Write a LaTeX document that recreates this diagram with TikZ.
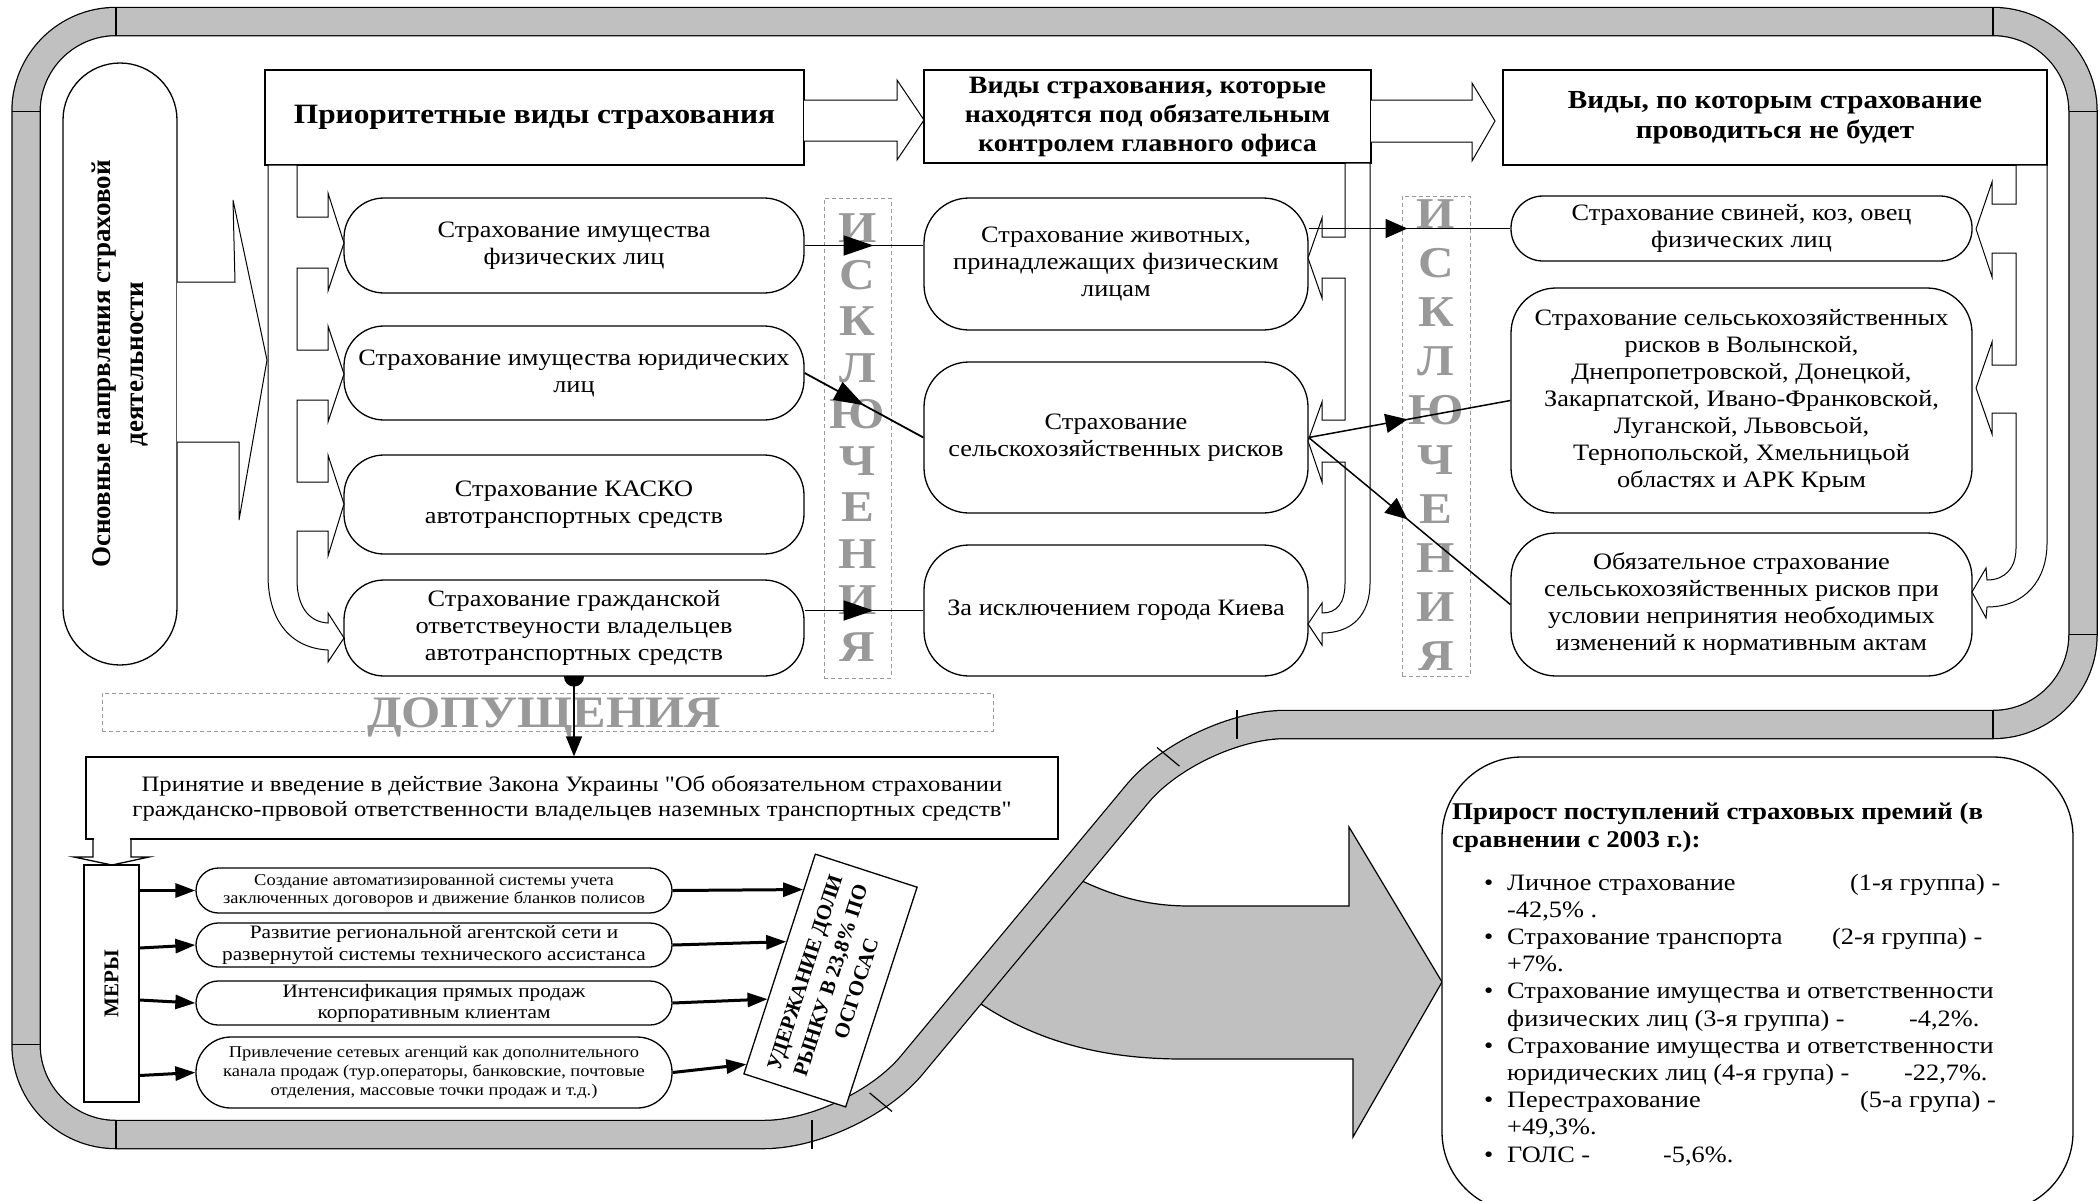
\documentclass[tikz,border=0pt]{standalone}
\usepackage{fontspec}
\usepackage{graphicx}
\setmainfont{Liberation Serif}[FakeStretch=1.12, Ligatures=TeXOff]
\newfontfamily\rotfont{Liberation Serif}[Ligatures=TeXOff]
\usetikzlibrary{arrows.meta,decorations.markings,calc}
\definecolor{bandgray}{RGB}{192,192,192}
\definecolor{lettergray}{RGB}{153,153,153}
\newcommand{\fsz}[2]{\fontsize{#1pt}{#2pt}\selectfont}
\tikzset{
  box/.style={draw, fill=white, line width=1.3pt, rounded corners=40pt, align=center, inner sep=0pt, font=\fsz{23.5}{27}},
  headbox/.style={draw, fill=white, line width=1.3pt, align=center, inner sep=0pt},
  pill/.style={draw, fill=white, line width=1.3pt, align=center, inner sep=0pt, minimum width=476pt},
  bracketst/.style={draw, fill=white, line width=1pt},
  dashbox/.style={draw=lettergray, dash pattern=on 4pt off 3pt, line width=1pt, inner sep=0pt},
  exletter/.style={text=lettergray, font=\bfseries\fsz{44}{48}, anchor=base, inner sep=0pt},
  midtri/.style={postaction={decorate}, decoration={markings, mark=at position #1 with {\arrow{Triangle[length=30pt,width=20pt]}}}},
  midtrib/.style={postaction={decorate}, decoration={markings, mark=at position #1 with {\arrow{Triangle[length=22pt,width=19pt]}}}},
  meraarrow/.style={line width=3pt, -{Triangle[length=20pt,width=14pt]}},
  prtext/.style={anchor=base west, inner sep=0pt, font=\fsz{23.5}{27}},
  divline/.style={line width=1.2pt},
}
\begin{document}
\begin{tikzpicture}[x=1pt,y=-1pt]
\useasboundingbox (0,0) rectangle (2100,1200);
\fill[white] (0,0) rectangle (2100,1200);

% big gray arrow
\draw[fill=bandgray, line width=1.2pt] (1070,875) .. controls (1115,898) and (1150,906) .. (1190,906) -- (1349,906) -- (1349,827) -- (1442,982) -- (1353,1137) -- (1353,1059) -- (1183,1059) .. controls (1110,1059) and (1040,1045) .. (975,1000) -- cycle;

% band loop
\draw[double=bandgray, double distance=27pt, line width=1.25pt, rounded corners=90pt]
  (1000,21.5) -- (2083,21.5) -- (2083,724.5) -- (1195,724.5) -- (854,1134.5) -- (26,1134.5) -- (26,21.5) -- cycle;
\draw[divline] (116,7) -- (116,36);
\draw[divline] (11.5,111.5) -- (40.5,111.5);
\draw[divline] (1993,7) -- (1993,36);
\draw[divline] (2068.5,111.5) -- (2097.5,111.5);
\draw[divline] (2068.5,634.5) -- (2097.5,634.5);
\draw[divline] (1993,710) -- (1993,739);
\draw[divline] (1237,710) -- (1237,739);
\draw[divline] (1157,747.5) -- (1179.4,766.1);
\draw[divline] (869.6,1092.9) -- (892,1111.5);
\draw[divline] (812,1120) -- (812,1149);
\draw[divline] (116,1120) -- (116,1149);
\draw[divline] (11.5,1044.5) -- (40.5,1044.5);

% left oval
\node[draw, fill=white, line width=1.3pt, rounded corners=57pt, minimum width=114pt, minimum height=602pt, inner sep=0pt] (OV) at (120,364)
 {\rotatebox{90}{\rotfont\bfseries\fsz{27}{33}\begin{tabular}{@{}c@{}}Основные напрвления страховой\\деятельности\end{tabular}}};

% headers
\node[headbox, minimum width=539pt, minimum height=95pt, font=\bfseries\fsz{28}{32}] (H1) at (534.5,117.5) {Приоритетные виды страхования};
\node[headbox, minimum width=447pt, minimum height=93pt, font=\bfseries\fsz{25}{29}] (H2) at (1147.5,116.5) {Виды страхования, которые\\находятся под обязательным\\контролем главного офиса};
\node[headbox, minimum width=544pt, minimum height=95pt, font=\bfseries\fsz{26}{30}] (H3) at (1775,117.5) {Виды, по которым страхование\\проводиться не будет};

% header block arrows
\draw[bracketst] (804,100) -- (897,100) -- (897,80) -- (924,120) -- (897,160) -- (897,141) -- (804,141);
\draw[bracketst] (1371,100) -- (1472,100) -- (1472,83) -- (1495,121) -- (1472,161) -- (1472,142) -- (1371,142);

% arrow from oval
\draw[bracketst] (177,282) -- (235,282) -- (233,200) -- (267,360) -- (239,520) -- (239,442) -- (177,442);

% left column boxes
\node[box, minimum width=460pt, minimum height=95pt] (L1) at (574,245.5) {Страхование имущества\\физических лиц};
\node[box, minimum width=460pt, minimum height=94pt] (L2) at (574,373) {Страхование имущества юридических\\лиц};
\node[box, minimum width=460pt, minimum height=99pt] (L3) at (574,504.5) {Страхование КАСКО\\автотранспортных средств};
\node[box, minimum width=460pt, minimum height=96pt] (L4) at (574,628) {Страхование гражданской\\ответствеуности владельцев\\автотранспортных средств};

% middle column boxes
\node[box, rounded corners=45pt, minimum width=384pt, minimum height=132pt] (M1) at (1116,264) {Страхование животных,\\принадлежащих физическим\\лицам};
\node[box, rounded corners=45pt, minimum width=384pt, minimum height=151pt] (M2) at (1116,437.5) {Страхование\\сельскохозяйственных рисков};
\node[box, rounded corners=45pt, minimum width=384pt, minimum height=131pt] (M3) at (1116,610.5) {За исключением города Киева};

% right column boxes
\node[box, rounded corners=32pt, minimum width=461pt, minimum height=65pt] (R1) at (1741.5,228.5) {Страхование свиней, коз, овец\\физических лиц};
\node[box, rounded corners=45pt, minimum width=461pt, minimum height=225pt] (R2) at (1741.5,400.5) {Страхование сельськохозяйственных\\рисков в Волынской,\\Днепропетровской, Донецкой,\\Закарпатской, Ивано-Франковской,\\Луганской, Львовсьой,\\Тернопольской, Хмельницьой\\областях и АРК Крым};
\node[box, rounded corners=45pt, minimum width=461pt, minimum height=143pt] (R3) at (1741.5,604.5) {Обязательное страхование\\сельськохозяйственных рисков при\\условии непринятия необходимых\\изменений к нормативным актам};

% brackets
\draw[bracketst] (268,165) -- (297,165) -- (297,217) -- (328,217) -- (328,193) -- (344,243) -- (328,291) -- (328,268) -- (297,268) -- (297,350) -- (328,350) -- (328,326) -- (344,374) -- (328,422) -- (328,400) -- (297,400) -- (297,482) -- (328,482) -- (328,455) -- (344,504) -- (328,556) -- (328,531) -- (297,531) -- (297,580) .. controls (297,605) and (308,622) .. (328,623) -- (328,613) -- (344,638) -- (328,662) -- (328,650) .. controls (290,648) and (268,620) .. (268,575) -- cycle;
\draw[bracketst] (1370,163) -- (1345,163) -- (1345,237) -- (1322,237) -- (1322,218) -- (1308,258) -- (1322,298) -- (1322,278) -- (1345,278) -- (1345,420) -- (1322,420) -- (1322,402) -- (1308,441) -- (1322,482) -- (1322,462) -- (1345,462) -- (1345,583) .. controls (1345,603) and (1337,613) .. (1322,613) -- (1322,603) -- (1308,624) -- (1322,645) -- (1322,633) .. controls (1352,633) and (1370,615) .. (1370,583) -- cycle;
\draw[bracketst] (2047,165) -- (2016,165) -- (2016,204) -- (1992,204) -- (1992,182) -- (1976,229) -- (1992,277) -- (1992,253) -- (2016,253) -- (2016,365) -- (1992,365) -- (1992,342) -- (1976,388) -- (1992,434) -- (1992,413) -- (2016,413) -- (2016,548) .. controls (2016,568) and (2005,580) .. (1987,580) -- (1986,568) -- (1972,592) -- (1986,618) -- (1987,607) .. controls (2025,607) and (2047,580) .. (2047,543) -- cycle;

% exclusion columns
\node[dashbox, minimum width=67pt, minimum height=480pt] (EX1) at (857.5,438) {};
\foreach \ch [count=\i] in {И,С,К,Л,Ю,Ч,Е,Н,И,Я}
  \node[exletter] (exa\i) at (857.5,{228+(\i-1)*46.5+14.5}) {\ch};
\node[dashbox, minimum width=68pt, minimum height=480pt] (EX2) at (1436,436) {};
\foreach \ch [count=\i] in {И,С,К,Л,Ю,Ч,Е,Н,И,Я}
  \node[exletter] (exb\i) at (1436,{214+(\i-1)*49.1+14.5}) {\ch};

% assumptions
\node[dashbox, minimum width=891pt, minimum height=38pt] (DPB) at (547.5,712) {};
\node[anchor=base, inner sep=0pt, text=lettergray, font=\bfseries\fsz{45}{50}] (DPT) at (544,727) {ДОПУЩЕНИЯ};

% connectors between columns
\draw[line width=1.8pt, midtri=0.58] (L1.east) -- (M1.west |- L1.east);
\draw[line width=1.8pt, midtri=0.5] (L2.east) -- (M2.west);
\draw[line width=1.8pt, midtri=0.58] (L4.east |- M3.west) -- (M3.west);
\draw[line width=1.5pt, midtrib=0.49] (M1.east |- R1.west) -- (R1.west);
\draw[line width=1.5pt, midtrib=0.49] (M2.east) -- (R2.west);
\draw[line width=1.5pt, midtrib=0.49] (M2.east) -- (R3.west);

% law box
\node[draw, fill=white, line width=1.3pt, minimum width=972pt, minimum height=82pt, inner sep=0pt, align=center, font=\fsz{22}{25}] (PN) at (572,798) {Принятие и введение в действие Закона Украины "Об обоязательном страховании\\гражданско-првовой ответственности владельцев наземных транспортных средств"};
\fill[white] (94,836) rectangle (130,842);
\draw[line width=1.3pt] (93,839) -- (93,857) -- (74,857) -- (112,865) -- (149,857) -- (131,857) -- (131,839);

\begin{scope}
\clip (0,676) rectangle (2100,700);
\fill (L4.south) circle[radius=10pt];
\end{scope}
\draw[line width=1.5pt, -{Triangle[length=20pt,width=16pt]}] (L4.south) -- (L4.south |- PN.north);

% measures
\node[draw, fill=white, line width=1.3pt, minimum width=55pt, minimum height=237pt, inner sep=0pt] (MR) at (111.5,983.5) {\rotatebox{90}{\rotfont\bfseries\fsz{21}{24}МЕРЫ}};
\node[pill, minimum height=45pt, rounded corners=22.5pt, font=\fsz{16.5}{18}] (B1) at (434,890.5) {Создание автоматизированной системы учета\\заключенных договоров и движение бланков полисов};
\node[pill, minimum height=44pt, rounded corners=22pt, font=\fsz{19}{22}] (B2) at (434,945) {Развитие региональной агентской сети и\\развернутой системы технического ассистанса};
\node[pill, minimum height=44pt, rounded corners=22pt, font=\fsz{19}{21}] (B3) at (434,1003) {Интенсификация прямых продаж\\корпоративным клиентам};
\node[pill, minimum height=71pt, rounded corners=35pt, font=\fsz{16.5}{19}] (B4) at (434,1072.5) {Привлечение сетевых агенций как дополнительного\\канала продаж (тур.операторы, банковские, почтовые\\отделения, массовые точки продаж и т.д.)};

\node[draw, fill=white, line width=1.3pt, rotate=72, minimum width=231pt, minimum height=107pt, inner sep=0pt, align=center, font=\rotfont\bfseries\fsz{21}{27}] (UD) at (830.5,980.5) {УДЕРЖАНИЕ ДОЛИ\\РЫНКУ В 23,8\% ПО\\ОСГОСАС};
\coordinate (u1) at ($(UD.north east)!0.164!(UD.north west)$);
\coordinate (u2) at ($(UD.north east)!0.40!(UD.north west)$);
\coordinate (u3) at ($(UD.north east)!0.66!(UD.north west)$);
\coordinate (u4) at ($(UD.north east)!0.955!(UD.north west)$);

\draw[meraarrow] (MR.east |- B1.west) -- (B1.west);
\draw[meraarrow] ($(MR.east |- B2.west)+(0,3)$) -- (B2.west);
\draw[meraarrow] ($(MR.east |- B3.west)+(0,-3)$) -- (B3.west);
\draw[meraarrow] ($(MR.east |- B4.west)+(0,3)$) -- (B4.west);
\draw[meraarrow] (B1.east) -- (u1);
\draw[meraarrow] (B2.east) -- (u2);
\draw[meraarrow] (B3.east) -- (u3);
\draw[meraarrow] (B4.east) -- (u4);

% growth box
\node[draw, fill=white, line width=1.3pt, rounded corners=80pt, minimum width=631pt, minimum height=455pt, inner sep=0pt] (PR) at (1757.5,984.5) {};
\node[anchor=base west, inner sep=0pt, font=\bfseries\fsz{24}{28}] (prh1) at (1452,819) {Прирост поступлений страховых премий (в};
\node[anchor=base west, inner sep=0pt, font=\bfseries\fsz{24}{28}] (prh2) at (1452,847) {сравнении с 2003 г.):};

\node[prtext] (b1) at (1484,890) {•};
\node[prtext] (t1a) at (1507,890) {Личное страхование};
\node[prtext] (t1b) at (1850,890) {(1-я группа) -};
\node[prtext] (t2) at (1507,917.2) {-42,5\% .};
\node[prtext] (b3) at (1484,944.4) {•};
\node[prtext] (t3a) at (1507,944.4) {Страхование транспорта};
\node[prtext] (t3b) at (1832,944.4) {(2-я группа) -};
\node[prtext] (t4) at (1507,971.6) {+7\%.};
\node[prtext] (b5) at (1484,998.8) {•};
\node[prtext] (t5) at (1507,998.8) {Страхование имущества и ответственности};
\node[prtext] (t6a) at (1507,1026) {физических лиц (3-я группа) -};
\node[prtext] (t6b) at (1909,1026) {-4,2\%.};
\node[prtext] (b7) at (1484,1053.2) {•};
\node[prtext] (t7) at (1507,1053.2) {Страхование имущества и ответственности};
\node[prtext] (t8a) at (1507,1080.4) {юридических лиц (4-я група) -};
\node[prtext] (t8b) at (1904,1080.4) {-22,7\%.};
\node[prtext] (b9) at (1484,1107.6) {•};
\node[prtext] (t9a) at (1507,1107.6) {Перестрахование};
\node[prtext] (t9b) at (1860,1107.6) {(5-а група) -};
\node[prtext] (t10) at (1507,1134.8) {+49,3\%.};
\node[prtext] (b11) at (1484,1162) {•};
\node[prtext] (t11a) at (1507,1162) {ГОЛС -};
\node[prtext] (t11b) at (1663,1162) {-5,6\%.};
\end{tikzpicture}
\end{document}
